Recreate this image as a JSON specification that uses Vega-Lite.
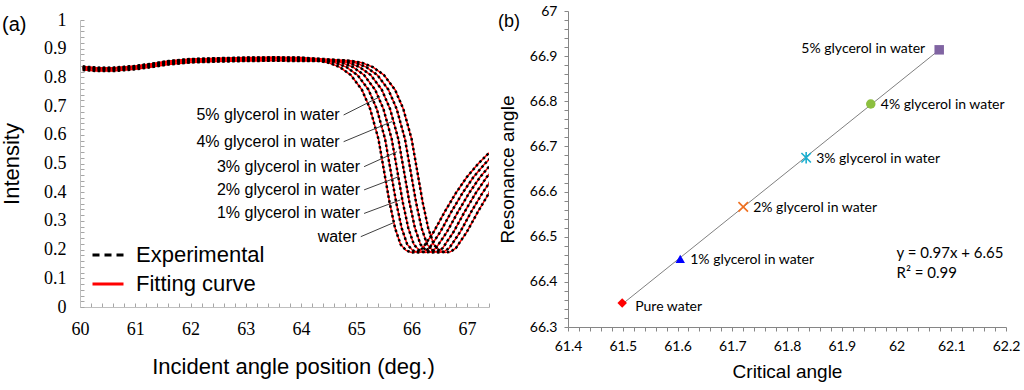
{
"$schema": "https://vega.github.io/schema/vega-lite/v6.json",
"padding": {"left": 0, "top": 4, "right": 5, "bottom": 4},
"bounds": "flush",
"spacing": 79,
"config": {"font": "Liberation Sans", "view": {"stroke": null}, "axis": {"grid": false, "labelOverlap": false, "labelBound": false, "labelFlush": false, "titleFontWeight": "normal", "titleColor": "#000000", "labelColor": "#000000"}},
"resolve": {"scale": {"color": "independent", "shape": "independent"}, "legend": {"color": "independent", "shape": "independent"}},
"datasets": {
"curves": [
{"c":0,"a":60.05,"i":0.832},{"c":0,"a":60.3,"i":0.828},{"c":0,"a":60.6,"i":0.828},{"c":0,"a":61.0,"i":0.834},{"c":0,"a":61.3,"i":0.842},{"c":0,"a":61.6,"i":0.851},{"c":0,"a":62.0,"i":0.858},{"c":0,"a":62.5,"i":0.861},{"c":0,"a":63.0,"i":0.863},{"c":0,"a":63.5,"i":0.864},{"c":0,"a":64.0,"i":0.863},
{"c":0,"a":64.3,"i":0.858},{"c":0,"a":64.5,"i":0.851},{"c":0,"a":64.7,"i":0.836},{"c":0,"a":64.9,"i":0.808},{"c":0,"a":65.1,"i":0.757},{"c":0,"a":65.25,"i":0.69},{"c":0,"a":65.4,"i":0.585},{"c":0,"a":65.5,"i":0.475},{"c":0,"a":65.6,"i":0.365},{"c":0,"a":65.7,"i":0.275},{"c":0,"a":65.8,"i":0.218},{"c":0,"a":65.9,"i":0.197},{"c":0,"a":66.0,"i":0.19},{"c":0,"a":66.1,"i":0.192},{"c":0,"a":66.2,"i":0.205},{"c":0,"a":66.4,"i":0.262},{"c":0,"a":66.6,"i":0.332},{"c":0,"a":66.8,"i":0.397},{"c":0,"a":67.0,"i":0.453},{"c":0,"a":67.2,"i":0.498},{"c":0,"a":67.4,"i":0.537},
{"c":1,"a":60.05,"i":0.837},{"c":1,"a":60.3,"i":0.833},{"c":1,"a":60.6,"i":0.833},{"c":1,"a":61.0,"i":0.839},{"c":1,"a":61.3,"i":0.847},{"c":1,"a":61.6,"i":0.856},{"c":1,"a":62.0,"i":0.863},{"c":1,"a":62.5,"i":0.866},{"c":1,"a":63.0,"i":0.868},{"c":1,"a":63.5,"i":0.869},{"c":1,"a":64.0,"i":0.868},
{"c":1,"a":64.42,"i":0.858},{"c":1,"a":64.62,"i":0.851},{"c":1,"a":64.82,"i":0.836},{"c":1,"a":65.02,"i":0.808},{"c":1,"a":65.22,"i":0.757},{"c":1,"a":65.37,"i":0.69},{"c":1,"a":65.52,"i":0.585},{"c":1,"a":65.62,"i":0.475},{"c":1,"a":65.72,"i":0.365},{"c":1,"a":65.82,"i":0.275},{"c":1,"a":65.92,"i":0.218},{"c":1,"a":66.02,"i":0.197},{"c":1,"a":66.12,"i":0.19},{"c":1,"a":66.22,"i":0.192},{"c":1,"a":66.32,"i":0.205},{"c":1,"a":66.52,"i":0.262},{"c":1,"a":66.72,"i":0.332},{"c":1,"a":66.92,"i":0.397},{"c":1,"a":67.12,"i":0.453},{"c":1,"a":67.32,"i":0.498},{"c":1,"a":67.52,"i":0.537},
{"c":2,"a":60.05,"i":0.828},{"c":2,"a":60.3,"i":0.824},{"c":2,"a":60.6,"i":0.824},{"c":2,"a":61.0,"i":0.830},{"c":2,"a":61.3,"i":0.838},{"c":2,"a":61.6,"i":0.847},{"c":2,"a":62.0,"i":0.854},{"c":2,"a":62.5,"i":0.857},{"c":2,"a":63.0,"i":0.859},{"c":2,"a":63.5,"i":0.860},{"c":2,"a":64.0,"i":0.859},
{"c":2,"a":64.54,"i":0.858},{"c":2,"a":64.74,"i":0.851},{"c":2,"a":64.94,"i":0.836},{"c":2,"a":65.14,"i":0.808},{"c":2,"a":65.34,"i":0.757},{"c":2,"a":65.49,"i":0.69},{"c":2,"a":65.64,"i":0.585},{"c":2,"a":65.74,"i":0.475},{"c":2,"a":65.84,"i":0.365},{"c":2,"a":65.94,"i":0.275},{"c":2,"a":66.04,"i":0.218},{"c":2,"a":66.14,"i":0.197},{"c":2,"a":66.24,"i":0.19},{"c":2,"a":66.34,"i":0.192},{"c":2,"a":66.44,"i":0.205},{"c":2,"a":66.64,"i":0.262},{"c":2,"a":66.84,"i":0.332},{"c":2,"a":67.04,"i":0.397},{"c":2,"a":67.24,"i":0.453},{"c":2,"a":67.44,"i":0.498},{"c":2,"a":67.64,"i":0.537},
{"c":3,"a":60.05,"i":0.834},{"c":3,"a":60.3,"i":0.830},{"c":3,"a":60.6,"i":0.830},{"c":3,"a":61.0,"i":0.836},{"c":3,"a":61.3,"i":0.844},{"c":3,"a":61.6,"i":0.853},{"c":3,"a":62.0,"i":0.860},{"c":3,"a":62.5,"i":0.863},{"c":3,"a":63.0,"i":0.865},{"c":3,"a":63.5,"i":0.866},{"c":3,"a":64.0,"i":0.865},
{"c":3,"a":64.66,"i":0.858},{"c":3,"a":64.86,"i":0.851},{"c":3,"a":65.06,"i":0.836},{"c":3,"a":65.26,"i":0.808},{"c":3,"a":65.46,"i":0.757},{"c":3,"a":65.61,"i":0.69},{"c":3,"a":65.76,"i":0.585},{"c":3,"a":65.86,"i":0.475},{"c":3,"a":65.96,"i":0.365},{"c":3,"a":66.06,"i":0.275},{"c":3,"a":66.16,"i":0.218},{"c":3,"a":66.26,"i":0.197},{"c":3,"a":66.36,"i":0.19},{"c":3,"a":66.46,"i":0.192},{"c":3,"a":66.56,"i":0.205},{"c":3,"a":66.76,"i":0.262},{"c":3,"a":66.96,"i":0.332},{"c":3,"a":67.16,"i":0.397},{"c":3,"a":67.36,"i":0.453},{"c":3,"a":67.56,"i":0.498},{"c":3,"a":67.76,"i":0.537},
{"c":4,"a":60.05,"i":0.826},{"c":4,"a":60.3,"i":0.822},{"c":4,"a":60.6,"i":0.822},{"c":4,"a":61.0,"i":0.828},{"c":4,"a":61.3,"i":0.836},{"c":4,"a":61.6,"i":0.845},{"c":4,"a":62.0,"i":0.852},{"c":4,"a":62.5,"i":0.855},{"c":4,"a":63.0,"i":0.857},{"c":4,"a":63.5,"i":0.858},{"c":4,"a":64.0,"i":0.857},
{"c":4,"a":64.78,"i":0.858},{"c":4,"a":64.98,"i":0.851},{"c":4,"a":65.18,"i":0.836},{"c":4,"a":65.38,"i":0.808},{"c":4,"a":65.58,"i":0.757},{"c":4,"a":65.73,"i":0.69},{"c":4,"a":65.88,"i":0.585},{"c":4,"a":65.98,"i":0.475},{"c":4,"a":66.08,"i":0.365},{"c":4,"a":66.18,"i":0.275},{"c":4,"a":66.28,"i":0.218},{"c":4,"a":66.38,"i":0.197},{"c":4,"a":66.48,"i":0.19},{"c":4,"a":66.58,"i":0.192},{"c":4,"a":66.68,"i":0.205},{"c":4,"a":66.88,"i":0.262},{"c":4,"a":67.08,"i":0.332},{"c":4,"a":67.28,"i":0.397},{"c":4,"a":67.48,"i":0.453},{"c":4,"a":67.68,"i":0.498},{"c":4,"a":67.88,"i":0.537},
{"c":5,"a":60.05,"i":0.838},{"c":5,"a":60.3,"i":0.834},{"c":5,"a":60.6,"i":0.834},{"c":5,"a":61.0,"i":0.840},{"c":5,"a":61.3,"i":0.848},{"c":5,"a":61.6,"i":0.857},{"c":5,"a":62.0,"i":0.864},{"c":5,"a":62.5,"i":0.867},{"c":5,"a":63.0,"i":0.869},{"c":5,"a":63.5,"i":0.870},{"c":5,"a":64.0,"i":0.869},
{"c":5,"a":64.9,"i":0.858},{"c":5,"a":65.1,"i":0.851},{"c":5,"a":65.3,"i":0.836},{"c":5,"a":65.5,"i":0.808},{"c":5,"a":65.7,"i":0.757},{"c":5,"a":65.85,"i":0.69},{"c":5,"a":66.0,"i":0.585},{"c":5,"a":66.1,"i":0.475},{"c":5,"a":66.2,"i":0.365},{"c":5,"a":66.3,"i":0.275},{"c":5,"a":66.4,"i":0.218},{"c":5,"a":66.5,"i":0.197},{"c":5,"a":66.6,"i":0.19},{"c":5,"a":66.7,"i":0.192},{"c":5,"a":66.8,"i":0.205},{"c":5,"a":67.0,"i":0.262},{"c":5,"a":67.2,"i":0.332},{"c":5,"a":67.4,"i":0.397},{"c":5,"a":67.6,"i":0.453},{"c":5,"a":67.8,"i":0.498},{"c":5,"a":68.0,"i":0.537}
],
"leaders": [
{"t":"5% glycerol in water","a":64.77,"i":0.669,"a2":65.43,"i2":0.733},
{"t":"4% glycerol in water","a":64.77,"i":0.576,"a2":65.645,"i2":0.646},
{"t":"3% glycerol in water","a":65.14,"i":0.489,"a2":65.735,"i2":0.541},
{"t":"2% glycerol in water","a":65.14,"i":0.408,"a2":65.766,"i2":0.454},
{"t":"1% glycerol in water","a":65.14,"i":0.326,"a2":65.795,"i2":0.373},
{"t":"water","a":65.08,"i":0.245,"a2":65.676,"i2":0.294}
],
"pts": [
{"n":"Pure water","x":61.499,"y":66.353},
{"n":"1% glycerol in water","x":61.605,"y":66.451},
{"n":"2% glycerol in water","x":61.72,"y":66.566},
{"n":"3% glycerol in water","x":61.835,"y":66.675},
{"n":"4% glycerol in water","x":61.953,"y":66.794},
{"n":"5% glycerol in water","x":62.078,"y":66.914}
]
},
"hconcat": [
{
"width": 409, "height": 296,
"layer": [
{"data": {"name": "curves"},
 "mark": {"type": "line", "strokeWidth": 1.5, "clip": true},
 "encoding": {
  "x": {"field": "a", "type": "quantitative", "scale": {"domain": [60, 67.4], "nice": false, "zero": false},
   "axis": {"values": [60,60.2,60.4,60.6,60.8,61,61.2,61.4,61.6,61.8,62,62.2,62.4,62.6,62.8,63,63.2,63.4,63.6,63.8,64,64.2,64.4,64.6,64.8,65,65.2,65.4,65.6,65.8,66,66.2,66.4,66.6,66.8,67,67.2,67.4],
    "tickCount": 200,
    "labelExpr": "datum.value % 1 == 0 ? format(datum.value, 'd') : ''",
    "labelOverlap": false, "labelBound": false, "labelFlush": false,
    "tickSize": -4, "labelPadding": 17, "domainColor": "#BFBFBF", "tickColor": "#A6A6A6",
    "labelFont": "Liberation Sans Narrow", "labelFontSize": 18,
    "title": "Incident angle position (deg.)", "titleFontSize": 22, "titlePadding": 18, "titleX": 213}},
  "y": {"field": "i", "type": "quantitative", "scale": {"domain": [0, 1], "range": [296, 9], "nice": false, "zero": false},
   "axis": {"values": [0,0.02,0.04,0.06,0.08,0.1,0.12,0.14,0.16,0.18,0.2,0.22,0.24,0.26,0.28,0.3,0.32,0.34,0.36,0.38,0.4,0.42,0.44,0.46,0.48,0.5,0.52,0.54,0.56,0.58,0.6,0.62,0.64,0.66,0.68,0.7,0.72,0.74,0.76,0.78,0.8,0.82,0.84,0.86,0.88,0.9,0.92,0.94,0.96,0.98,1],
    "tickCount": 200,
    "labelExpr": "indexof([0,0.1,0.2,0.3,0.4,0.5,0.6,0.7,0.8,0.9,1], datum.value) >= 0 ? format(datum.value, '~g') : ''",
    "labelOverlap": false, "labelBound": false, "labelFlush": false,
    "tickSize": -4, "labelPadding": 18, "domainColor": "#BFBFBF", "tickColor": "#A6A6A6",
    "labelFont": "Liberation Sans Narrow", "labelFontSize": 18,
    "title": "Intensity", "titleFontSize": 22, "titlePadding": 20}},
  "detail": {"field": "c", "type": "nominal"},
  "color": {"datum": "Fitting curve", "scale": {"domain": ["Experimental", "Fitting curve"], "range": ["#000000", "#FF0000"]},
   "legend": {"orient": "none", "legendX": 11, "legendY": 227, "title": null, "padding": 0, "symbolType": "stroke", "symbolSize": 961, "symbolStrokeWidth": 3, "labelFontSize": 22, "labelFont": "Liberation Sans", "labelColor": "#000000", "labelOffset": 11, "rowPadding": 1,
    "encode": {"symbols": {"update": {"strokeDash": {"signal": "datum.value === 'Experimental' ? [7, 5] : [1, 0]"}}}}}}
 }},
{"data": {"name": "curves"},
 "mark": {"type": "line", "strokeWidth": 2.5, "strokeDash": [2.5, 2.5], "clip": true},
 "encoding": {
  "x": {"field": "a", "type": "quantitative"},
  "y": {"field": "i", "type": "quantitative"},
  "detail": {"field": "c", "type": "nominal"},
  "color": {"datum": "Experimental"}
 }},
{"data": {"name": "leaders"},
 "mark": {"type": "rule", "color": "#404040", "strokeWidth": 1},
 "encoding": {
  "x": {"field": "a", "type": "quantitative"}, "y": {"field": "i", "type": "quantitative"},
  "x2": {"field": "a2"}, "y2": {"field": "i2"}
 }},
{"data": {"name": "leaders"},
 "mark": {"type": "text", "align": "right", "baseline": "middle", "dx": -4, "fontSize": 16, "font": "Liberation Sans", "color": "#000000"},
 "encoding": {
  "x": {"field": "a", "type": "quantitative"}, "y": {"field": "i", "type": "quantitative"},
  "text": {"field": "t"}
 }},
{"data": {"values": [{"t": "(a)"}]},
 "mark": {"type": "text", "align": "left", "baseline": "middle", "dx": -78, "dy": 5, "fontSize": 20, "font": "Liberation Sans", "color": "#000000"},
 "encoding": {"x": {"datum": 60}, "y": {"datum": 1}, "text": {"field": "t"}}}
]
},
{
"width": 438, "height": 316,
"layer": [
{"data": {"name": "pts"},
 "transform": [{"regression": "y", "on": "x"}],
 "mark": {"type": "line", "color": "#808080", "strokeWidth": 1},
 "encoding": {
 "x": {"field": "x", "type": "quantitative", "scale": {"domain": [61.4, 62.2], "nice": false, "zero": false},
  "axis": {"values": [61.4,61.42,61.44,61.46,61.48,61.5,61.52,61.54,61.56,61.58,61.6,61.62,61.64,61.66,61.68,61.7,61.72,61.74,61.76,61.78,61.8,61.82,61.84,61.86,61.88,61.9,61.92,61.94,61.96,61.98,62,62.02,62.04,62.06,62.08,62.1,62.12,62.14,62.16,62.18,62.2],
   "tickCount": 200,
   "labelExpr": "indexof([61.4,61.5,61.6,61.7,61.8,61.9,62,62.1,62.2], datum.value) >= 0 ? format(datum.value, '~g') : ''",
   "labelOverlap": false,
   "tickSize": 4, "labelPadding": 8, "domainColor": "#868686", "tickColor": "#868686",
   "labelFont": "Lato", "labelFontSize": 14,
   "title": "Critical angle", "titleFontSize": 19, "titlePadding": 9}},
 "y": {"field": "y", "type": "quantitative", "scale": {"domain": [66.3, 67], "nice": false, "zero": false},
  "axis": {"values": [66.3,66.32,66.34,66.36,66.38,66.4,66.42,66.44,66.46,66.48,66.5,66.52,66.54,66.56,66.58,66.6,66.62,66.64,66.66,66.68,66.7,66.72,66.74,66.76,66.78,66.8,66.82,66.84,66.86,66.88,66.9,66.92,66.94,66.96,66.98,67],
   "tickCount": 200,
   "labelExpr": "indexof([66.3,66.4,66.5,66.6,66.7,66.8,66.9,67], datum.value) >= 0 ? format(datum.value, '~g') : ''",
   "labelOverlap": false,
   "tickSize": 4, "labelPadding": 7, "domainColor": "#868686", "tickColor": "#868686",
   "labelFont": "Lato", "labelFontSize": 14,
   "title": "Resonance angle", "titleFontSize": 19, "titlePadding": 12}}
 }},
{"data": {"name": "pts"},
 "transform": [{"filter": {"field": "n", "oneOf": ["Pure water", "1% glycerol in water", "4% glycerol in water", "5% glycerol in water"]}}],
 "mark": {"type": "point", "filled": true, "opacity": 1, "size": 90},
 "encoding": {
  "x": {"field": "x", "type": "quantitative"}, "y": {"field": "y", "type": "quantitative"},
  "shape": {"field": "n", "type": "nominal", "legend": null, "scale": {"domain": ["Pure water", "1% glycerol in water", "2% glycerol in water", "3% glycerol in water", "4% glycerol in water", "5% glycerol in water"], "range": ["diamond", "triangle-up", "M-1,-1L1,1M-1,1L1,-1", "M-1,-1L1,1M-1,1L1,-1M0,-1.2L0,1.2", "circle", "square"]}},
  "color": {"field": "n", "type": "nominal", "legend": null, "scale": {"domain": ["Pure water", "1% glycerol in water", "2% glycerol in water", "3% glycerol in water", "4% glycerol in water", "5% glycerol in water"], "range": ["#FF0000", "#0000FF", "#F07020", "#1AAFD0", "#8CBF3F", "#8064A2"]}}
 }},
{"data": {"name": "pts"},
 "transform": [{"filter": {"field": "n", "oneOf": ["2% glycerol in water", "3% glycerol in water"]}}],
 "mark": {"type": "point", "filled": false, "opacity": 1, "size": 90, "strokeWidth": 1.6},
 "encoding": {
  "x": {"field": "x", "type": "quantitative"}, "y": {"field": "y", "type": "quantitative"},
  "shape": {"field": "n", "type": "nominal", "legend": null},
  "color": {"field": "n", "type": "nominal", "legend": null}
 }},
{"data": {"name": "pts"},
 "transform": [{"filter": {"field": "n", "oneOf": ["1% glycerol in water", "2% glycerol in water", "3% glycerol in water", "4% glycerol in water"]}}],
 "mark": {"type": "text", "align": "left", "baseline": "middle", "dx": 10, "dy": 1, "font": "Lato", "fontSize": 14, "color": "#000000"},
 "encoding": {"x": {"field": "x", "type": "quantitative"}, "y": {"field": "y", "type": "quantitative"}, "text": {"field": "n"}}},
{"data": {"name": "pts"},
 "transform": [{"filter": {"field": "n", "equal": "Pure water"}}],
 "mark": {"type": "text", "align": "left", "baseline": "middle", "dx": 13, "dy": 4, "font": "Lato", "fontSize": 14, "color": "#000000"},
 "encoding": {"x": {"field": "x", "type": "quantitative"}, "y": {"field": "y", "type": "quantitative"}, "text": {"field": "n"}}},
{"data": {"name": "pts"},
 "transform": [{"filter": {"field": "n", "equal": "5% glycerol in water"}}],
 "mark": {"type": "text", "align": "right", "baseline": "middle", "dx": -14, "dy": -1, "font": "Lato", "fontSize": 14, "color": "#000000"},
 "encoding": {"x": {"field": "x", "type": "quantitative"}, "y": {"field": "y", "type": "quantitative"}, "text": {"field": "n"}}},
{"data": {"values": [{"x": 62.0, "y": 66.464, "t": "y = 0.97x + 6.65"}, {"x": 62.0, "y": 66.42, "t": "R² = 0.99"}]},
 "mark": {"type": "text", "align": "left", "baseline": "middle", "font": "Lato", "fontSize": 15, "color": "#000000"},
 "encoding": {"x": {"field": "x", "type": "quantitative"}, "y": {"field": "y", "type": "quantitative"}, "text": {"field": "t"}}},
{"data": {"values": [{"t": "(b)"}]},
 "mark": {"type": "text", "align": "left", "baseline": "middle", "dx": -70, "dy": 11, "fontSize": 18, "font": "Liberation Sans", "color": "#000000"},
 "encoding": {"x": {"datum": 61.4, "type": "quantitative"}, "y": {"datum": 67, "type": "quantitative"}, "text": {"field": "t"}}}
]
}
]
}
